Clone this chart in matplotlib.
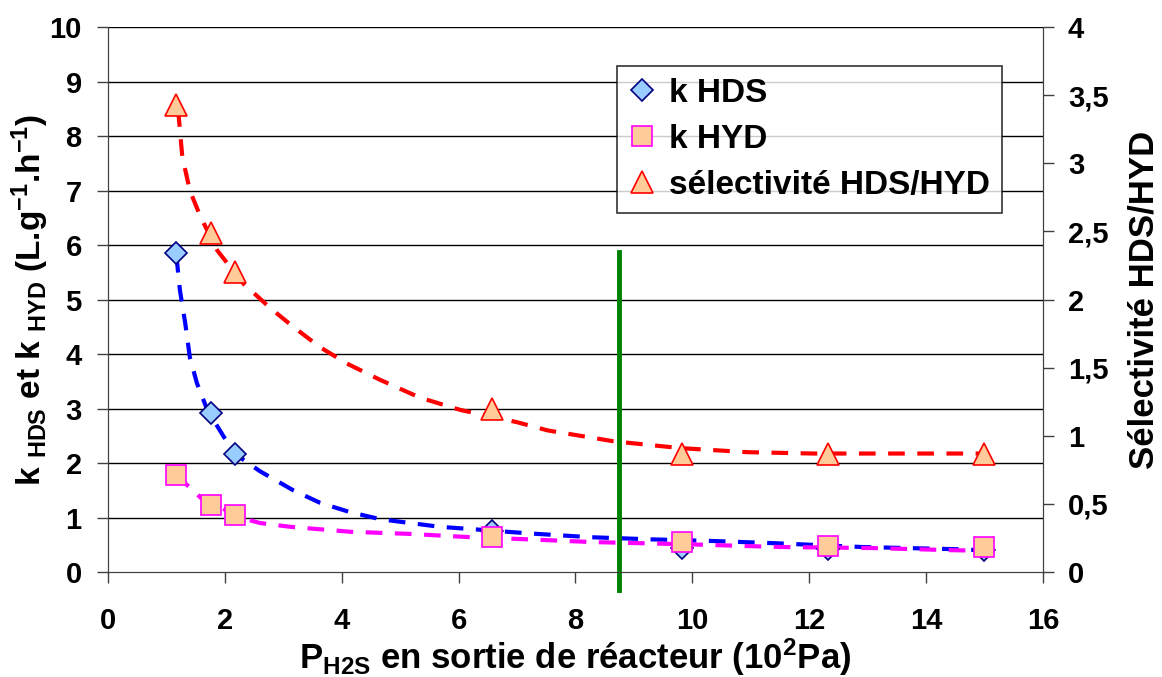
import numpy as np
import matplotlib as mpl
mpl.use('Agg')
import matplotlib.pyplot as plt
from matplotlib.ticker import FuncFormatter

plt.rcParams['font.family'] = ['Liberation Sans', 'DejaVu Sans']
plt.rcParams['font.weight'] = 'bold'
plt.rcParams['mathtext.fontset'] = 'custom'
plt.rcParams['mathtext.rm'] = 'Liberation Sans:bold'
plt.rcParams['mathtext.it'] = 'Liberation Sans:bold'
plt.rcParams['mathtext.bf'] = 'Liberation Sans:bold'

# measured points
p_h2s = [1.17, 1.77, 2.17, 6.57, 9.83, 12.32, 15.0]
k_hds = [5.85, 2.92, 2.17, 0.75, 0.45, 0.43, 0.40]
k_hyd = [1.78, 1.23, 1.05, 0.64, 0.55, 0.48, 0.46]
selec = [3.43, 2.49, 2.20, 1.20, 0.87, 0.87, 0.87]

# trend curves
hds_x = [1.17, 1.23, 1.32, 1.40, 1.52, 1.70, 2.0, 2.17, 2.6, 3.17, 3.63, 4.14, 4.66, 5.17, 5.68, 6.2, 7.2, 8.25, 9.3, 10.36, 11.4, 12.9, 14.5, 15.2]
hds_y = [5.80, 5.17, 4.57, 3.94, 3.47, 2.97, 2.45, 2.17, 1.85, 1.5, 1.27, 1.1, 0.97, 0.9, 0.83, 0.79, 0.71, 0.64, 0.6, 0.57, 0.53, 0.46, 0.42, 0.39]
hyd_x = [1.17, 1.35, 1.6, 1.9, 2.26, 2.6, 3.12, 4.14, 5.17, 6.2, 7.2, 8.3, 9.9, 11.5, 13.1, 14.5, 15.2]
hyd_y = [1.78, 1.6, 1.35, 1.2, 1.0, 0.9, 0.83, 0.74, 0.7, 0.64, 0.6, 0.55, 0.51, 0.46, 0.44, 0.4, 0.39]
sel_x = [1.2, 1.27, 1.40, 1.58, 1.87, 2.31, 2.77, 3.17, 3.63, 4.09, 4.66, 5.34, 6.03, 7.0, 7.52, 8.65, 9.79, 10.94, 12.07, 15.0]
sel_y = [3.39, 3.05, 2.80, 2.61, 2.36, 2.12, 1.94, 1.80, 1.65, 1.53, 1.41, 1.28, 1.19, 1.10, 1.04, 0.96, 0.91, 0.88, 0.87, 0.87]

vline_x = 8.75

fig = plt.figure(figsize=(11.62, 6.77), dpi=100)
ax = fig.add_axes([0.093, 0.155, 0.8045, 0.805])
ax2 = ax.twinx()

for v in range(1, 11):
    ax.axhline(v, color='black', lw=1.0, zorder=0)

dash = (0, (4, 3))
ax.plot(hds_x, hds_y, ls=dash, color='#0000FF', lw=3, zorder=2)
ax.plot(hyd_x, hyd_y, ls=dash, color='#FF00FF', lw=3, zorder=2)
ax.plot(p_h2s, k_hds, 'D', ms=11, mfc='#99CCFF', mec='#000080', mew=1.2, zorder=3, label='k HDS')
ax.plot(p_h2s, k_hyd, 's', ms=15, mfc='#FFCC99', mec='#FF00FF', mew=1.2, zorder=4, label='k HYD')

ax2.plot(sel_x, sel_y, ls=dash, color='#FF0000', lw=3, zorder=2)
ax2.plot(p_h2s, selec, '^', ms=16, mfc='#FFCC99', mec='#FF0000', mew=1.2, zorder=3,
         label='sélectivité HDS/HYD')

ax.plot([vline_x, vline_x], [-0.33, 5.87], color='#008000', lw=3.5, clip_on=False, zorder=5)

ax.set_xlim(0, 16)
ax.set_ylim(0, 10)
ax2.set_ylim(0, 4)
ax.set_xticks(np.arange(0, 17, 2))
ax.set_yticks(np.arange(0, 11, 1))
ax2.set_yticks(np.arange(0, 4.01, 0.5))
ax2.yaxis.set_major_formatter(FuncFormatter(lambda v, p: ('%g' % v).replace('.', ',')))

for a in (ax, ax2):
    a.tick_params(labelsize=21, length=8, width=1, color='#404040')
    for s in a.spines.values():
        s.set_color('#404040')
    a.spines['top'].set_visible(False)
ax.tick_params(axis='x', pad=17)
ax.tick_params(axis='y', pad=11)
ax2.tick_params(axis='y', pad=10)

ax.set_xlabel('P$_{\\mathrm{H2S}}$ en sortie de réacteur (10$^{\\mathrm{2}}$Pa)', fontsize=25,
              fontweight='bold')
ax.set_ylabel('k $_{\\mathrm{HDS}}$ et k $_{\\mathrm{HYD}}$ (L.g$^{\\mathrm{-1}}$.h$^{\\mathrm{-1}}$)',
              fontsize=24, fontweight='bold')
ax2.set_ylabel('Sélectivité HDS/HYD', fontsize=25, fontweight='bold')
ax.xaxis.set_label_coords(0.5, -0.118)
ax.yaxis.set_label_coords(-0.083, 0.5)
ax.yaxis.label.set_va('center')
ax2.yaxis.set_label_coords(1.108, 0.5)
ax2.yaxis.label.set_va('center')

h1, l1 = ax.get_legend_handles_labels()
h2, l2 = ax2.get_legend_handles_labels()
leg = ax2.legend(h1 + h2, l1 + l2, loc='upper right', bbox_to_anchor=(0.956, 0.928),
                 prop={'size': 24, 'weight': 'bold'}, frameon=True, fancybox=False,
                 edgecolor='black', handlelength=0.8, handletextpad=0.4,
                 labelspacing=0.45, borderpad=0.35, borderaxespad=0, markerscale=1.0)
leg.get_frame().set_linewidth(1.2)
leg.set_zorder(10)

fig.savefig('out.png', dpi=100)
